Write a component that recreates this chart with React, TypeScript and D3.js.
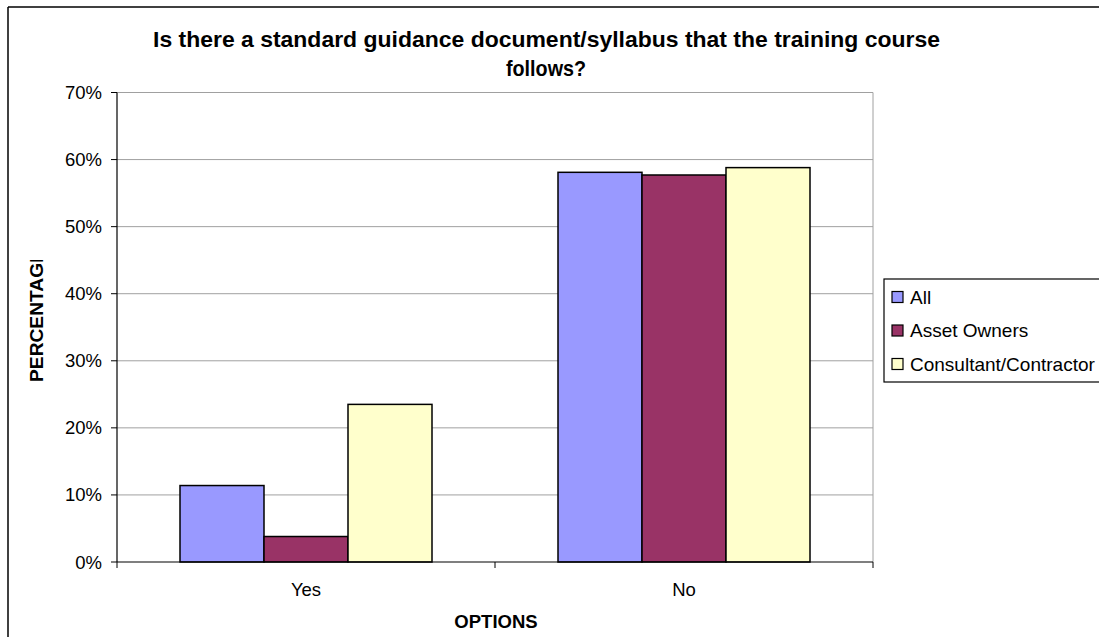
import React from "react";
import * as d3 from "d3";

const categories = ["Yes", "No"];
const seriesNames = ["All", "Asset Owners", "Consultant/Contractor"];
const allValues = [0.114, 0.581];
const assetOwnerValues = [0.038, 0.577];
const consultantValues = [0.235, 0.588];
const yTicks = [0, 0.1, 0.2, 0.3, 0.4, 0.5, 0.6, 0.7];
const colors = ["#9999FF", "#993366", "#FFFFCC"];

const W = 1099;
const H = 637;
const plot = { left: 117, right: 873, top: 92.5, bottom: 562 };
const FONT = "Arial, 'Liberation Sans', sans-serif";

export default function App() {
  const series = [allValues, assetOwnerValues, consultantValues];
  const x0 = d3
    .scaleBand<string>()
    .domain(categories)
    .range([plot.left, plot.right])
    .paddingInner(1 / 3)
    .paddingOuter(1 / 6);
  const x1 = d3
    .scaleBand<string>()
    .domain(seriesNames)
    .range([0, x0.bandwidth()])
    .padding(0);
  const y = d3.scaleLinear().domain([0, 0.7]).range([plot.bottom, plot.top]);
  const fmt = d3.format(".0%");
  const step = x0.step();
  const catBoundaries = [plot.left, plot.left + step, plot.right];

  return (
    <svg
      width={W}
      height={H}
      style={{ position: "absolute", left: 0, top: 0, background: "#fff" }}
      fontFamily={FONT}
    >
      <defs>
        <clipPath id="ylabclip">
          <rect x={0} y={260} width={80} height={200} />
        </clipPath>
      </defs>
      <rect x={0} y={0} width={W} height={H} fill="#fff" />
      {/* outer frame */}
      <line x1={8} y1={7} x2={W} y2={7} stroke="#000" strokeWidth={1.5} />
      <line x1={8} y1={7} x2={8} y2={H} stroke="#000" strokeWidth={1.5} />

      {/* title */}
      <text
        x={546.5}
        y={47}
        textAnchor="middle"
        fontWeight="bold"
        fontSize={22}
        textLength={787}
        lengthAdjust="spacingAndGlyphs"
      >
        Is there a standard guidance document/syllabus that the training course
      </text>
      <text
        x={546}
        y={76}
        textAnchor="middle"
        fontWeight="bold"
        fontSize={22}
        textLength={80}
        lengthAdjust="spacingAndGlyphs"
      >
        follows?
      </text>

      {/* gridlines */}
      {yTicks.slice(1).map((t) => (
        <line
          key={"g" + t}
          x1={plot.left}
          x2={plot.right}
          y1={y(t)}
          y2={y(t)}
          stroke="#a0a0a0"
          strokeWidth={1}
        />
      ))}
      <line x1={plot.right} x2={plot.right} y1={plot.top} y2={plot.bottom} stroke="#a0a0a0" strokeWidth={1} />

      {/* bars */}
      {categories.map((c, ci) => (
        <g key={c} transform={`translate(${x0(c)},0)`}>
          {seriesNames.map((s, si) => {
            const v = series[si][ci];
            return (
              <rect
                key={s}
                x={x1(s)}
                y={y(v)}
                width={x1.bandwidth()}
                height={y(0) - y(v)}
                fill={colors[si]}
                stroke="#000"
                strokeWidth={1.5}
              />
            );
          })}
        </g>
      ))}

      {/* axes */}
      <line x1={plot.left} x2={plot.left} y1={plot.top} y2={plot.bottom} stroke="#000" strokeWidth={1.2} />
      <line x1={plot.left} x2={plot.right} y1={plot.bottom} y2={plot.bottom} stroke="#000" strokeWidth={1.2} />
      {yTicks.map((t) => (
        <g key={"t" + t}>
          <line x1={plot.left - 6} x2={plot.left} y1={y(t)} y2={y(t)} stroke="#000" strokeWidth={1} />
          <text x={102} y={y(t) + 6.5} textAnchor="end" fontSize={18.5}>
            {fmt(t)}
          </text>
        </g>
      ))}
      {catBoundaries.map((bx, i) => (
        <line key={"xt" + i} x1={bx} x2={bx} y1={plot.bottom} y2={plot.bottom + 6} stroke="#000" strokeWidth={1} />
      ))}
      {categories.map((c) => (
        <text key={"xl" + c} x={(x0(c) as number) + x0.bandwidth() / 2} y={596} textAnchor="middle" fontSize={18.5}>
          {c}
        </text>
      ))}

      {/* axis titles */}
      <text x={496} y={628} textAnchor="middle" fontWeight="bold" fontSize={18.5}>
        OPTIONS
      </text>
      <g clipPath="url(#ylabclip)">
        <text
          transform="translate(43,382) rotate(-90)"
          x={0}
          y={0}
          textAnchor="start"
          fontWeight="bold"
          fontSize={18}
          textLength={132}
          lengthAdjust="spacingAndGlyphs"
        >
          PERCENTAGE
        </text>
      </g>

      {/* legend */}
      <rect x={884} y={279} width={W - 884 + 5} height={103} fill="#fff" stroke="#000" strokeWidth={1.2} />
      {seriesNames.map((s, i) => {
        const cy = 297 + i * 33.5;
        return (
          <g key={"lg" + s}>
            <rect x={892} y={cy - 5.5} width={11} height={11} fill={colors[i]} stroke="#000" strokeWidth={1.2} />
            <text x={910} y={cy + 6.5} fontSize={19}>
              {s}
            </text>
          </g>
        );
      })}
    </svg>
  );
}
